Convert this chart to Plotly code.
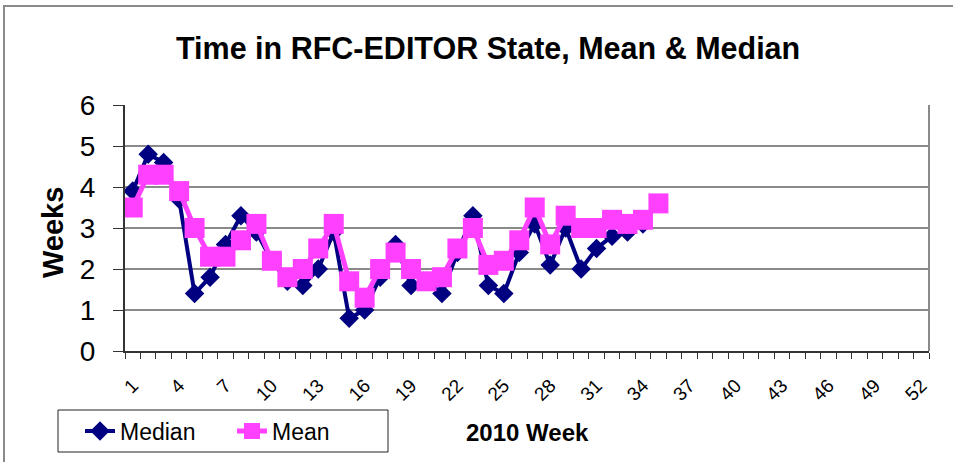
import plotly.graph_objects as go

weeks_median = list(range(1, 35))
median = [3.9, 4.8, 4.6, 3.7, 1.4, 1.8, 2.6, 3.3, 2.9, 2.2, 1.7, 1.6, 2.0, 2.9, 0.8,
          1.0, 1.8, 2.6, 1.6, 1.7, 1.4, 2.4, 3.3, 1.6, 1.4, 2.4, 3.1, 2.1, 3.0, 2.0,
          2.5, 2.8, 2.9, 3.1]
weeks_mean = list(range(1, 36))
mean = [3.5, 4.3, 4.3, 3.9, 3.0, 2.3, 2.3, 2.7, 3.1, 2.2, 1.8, 2.0, 2.5, 3.1, 1.7,
        1.3, 2.0, 2.4, 2.0, 1.7, 1.8, 2.5, 3.0, 2.1, 2.2, 2.7, 3.5, 2.6, 3.3, 3.0,
        3.0, 3.2, 3.1, 3.2, 3.6]
x_tick_vals = list(range(1, 53, 3))
x_tick_labels = [str(v) for v in x_tick_vals]
y_tick_vals = [0, 1, 2, 3, 4, 5, 6]

FONT = "Liberation Sans, Arial, Helvetica, sans-serif"
W, H = 953, 462
L, T = 125, 105
R = W - 929
B = H - 351
PW, PH = W - L - R, H - T - B


def px(xp):
    return (xp - L) / PW


def py(yp):
    return (H - B - yp) / PH


fig = go.Figure()
fig.add_trace(go.Scatter(
    x=weeks_median, y=median, name="Median", mode="lines+markers",
    line=dict(color="#000080", width=4),
    marker=dict(symbol="diamond", size=15, color="#000080"),
))
fig.add_trace(go.Scatter(
    x=weeks_mean, y=mean, name="Mean", mode="lines+markers",
    line=dict(color="#FF40FF", width=5),
    marker=dict(symbol="square", size=20, color="#FF40FF"),
))

fig.update_layout(
    width=W, height=H,
    margin=dict(l=L, r=R, t=T, b=B, autoexpand=False),
    paper_bgcolor="white", plot_bgcolor="white",
    font=dict(family=FONT, color="black"),
    showlegend=True,
    legend=dict(
        orientation="h", x=px(80), y=py(431), xanchor="left", yanchor="middle",
        borderwidth=0, bgcolor="rgba(0,0,0,0)",
        font=dict(size=23, family=FONT), entrywidth=107,
    ),
    xaxis=dict(
        range=[0.5, 52.5], tickmode="array", tickvals=x_tick_vals,
        ticktext=x_tick_labels, tickangle=-45, ticks="", showgrid=False,
        tickfont=dict(size=19, family=FONT), ticklabelstandoff=14,
        showline=True, linecolor="#333333", linewidth=2, zeroline=False,
        minor=dict(tickmode="linear", tick0=0.5, dtick=1, ticks="outside",
                   ticklen=6, tickcolor="#333333", tickwidth=1, showgrid=False),
    ),
    yaxis=dict(
        range=[0, 6], tickmode="array", tickvals=y_tick_vals, ticks="outside",
        ticklen=10, tickcolor="#333333", tickwidth=1,
        tickfont=dict(size=28, family=FONT), ticklabelstandoff=12,
        showgrid=True, gridcolor="#8a8a8a", gridwidth=2,
        showline=True, linecolor="#333333", linewidth=2, zeroline=False,
    ),
    annotations=[
        dict(text="<b>Time in RFC-EDITOR State, Mean &amp; Median</b>",
             xref="paper", yref="paper", x=px(487.5), y=py(48),
             xanchor="center", yanchor="middle", showarrow=False,
             font=dict(size=30.5, family=FONT)),
        dict(text="<b>Weeks</b>", xref="paper", yref="paper",
             x=px(53), y=py(233), textangle=-90, xanchor="center",
             yanchor="middle", showarrow=False, font=dict(size=29, family=FONT)),
        dict(text="<b>2010 Week</b>", xref="paper", yref="paper",
             x=px(527), y=py(432), xanchor="center", yanchor="middle",
             showarrow=False, font=dict(size=24, family=FONT)),
    ],
    shapes=[
        dict(type="line", xref="paper", yref="paper", x0=1, x1=1, y0=0, y1=1,
             line=dict(color="#8a8a8a", width=2)),
        dict(type="rect", xref="paper", yref="paper", x0=px(4), x1=px(970),
             y0=py(480), y1=py(6), line=dict(color="#8a8a8a", width=2),
             layer="below"),
        dict(type="rect", xref="paper", yref="paper", x0=px(58), x1=px(388),
             y0=py(452), y1=py(410), line=dict(color="#222222", width=1),
             layer="below"),
    ],
)

fig.write_html(
    "out.html",
    config={"displayModeBar": False},
    post_script="document.body.style.margin='0px';document.body.style.overflow='hidden';",
)
